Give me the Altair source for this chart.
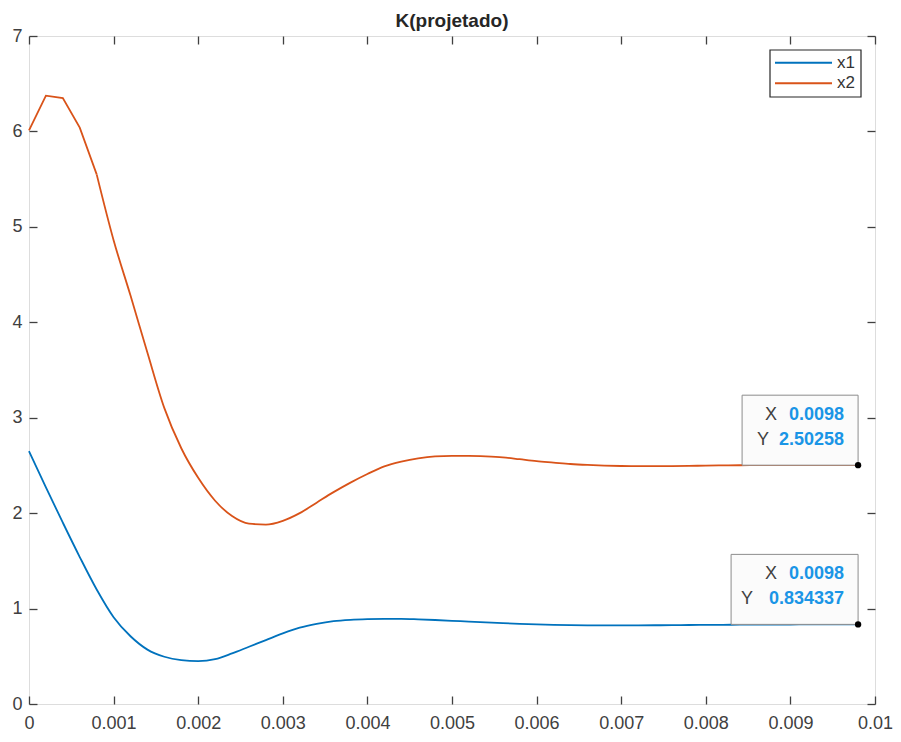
import altair as alt
import pandas as pd

# ---- data ----
t = [0.0, 0.0002, 0.0004, 0.0006, 0.0008, 0.0010, 0.0012, 0.0014, 0.0016, 0.0018,
     0.0020, 0.0022, 0.0024, 0.0026, 0.0028, 0.0030, 0.0032, 0.0034, 0.0036, 0.0038,
     0.0040, 0.0042, 0.0044, 0.0046, 0.0048, 0.0050, 0.0052, 0.0054, 0.0056, 0.0058,
     0.0060, 0.0062, 0.0064, 0.0066, 0.0068, 0.0070, 0.0072, 0.0074, 0.0076, 0.0078,
     0.0080, 0.0082, 0.0084, 0.0086, 0.0088, 0.0090, 0.0092, 0.0094, 0.0096, 0.0098]

x1 = [2.65, 2.27, 1.90, 1.54, 1.20, 0.91, 0.71, 0.57, 0.495, 0.46,
      0.45, 0.47, 0.53, 0.60, 0.67, 0.74, 0.80, 0.84, 0.868, 0.882,
      0.889, 0.892, 0.892, 0.887, 0.880, 0.872, 0.863, 0.855, 0.847, 0.840,
      0.834, 0.829, 0.826, 0.824, 0.823, 0.823, 0.824, 0.825, 0.826, 0.828,
      0.829, 0.830, 0.831, 0.832, 0.833, 0.833, 0.834, 0.834, 0.834, 0.834337]

x2 = [6.01, 6.375, 6.35, 6.04, 5.55, 4.86, 4.28, 3.68, 3.10, 2.68,
      2.37, 2.13, 1.97, 1.89, 1.88, 1.92, 2.00, 2.11, 2.22, 2.32,
      2.41, 2.49, 2.54, 2.575, 2.595, 2.60, 2.60, 2.595, 2.585, 2.565,
      2.545, 2.53, 2.515, 2.505, 2.498, 2.494, 2.492, 2.492, 2.493, 2.495,
      2.498, 2.500, 2.502, 2.503, 2.504, 2.504, 2.504, 2.503, 2.503, 2.50258]

series_names = ["x1", "x2"]
series_colors = ["#0072BD", "#D95319"]

x_ticks = [0, 0.001, 0.002, 0.003, 0.004, 0.005, 0.006, 0.007, 0.008, 0.009, 0.01]
y_ticks = [0, 1, 2, 3, 4, 5, 6, 7]

# data tips
tip_x = [0.0098, 0.0098]
tip_y = [2.50258, 0.834337]
tip_x_text = ["0.0098", "0.0098"]
tip_y_text = ["2.50258", "0.834337"]

# ---- styling ----
FONT = "Liberation Sans"
AX = "#404040"
W, H = 846, 668
tip_box_w = [116, 127]
tip_label_dx_x = [-81, -81]
tip_label_dx_y = [-89, -105]
legend_rows_y = [26.7, 47.3]

xs = alt.Scale(domain=[0, 0.01], nice=False, zero=False)
ys = alt.Scale(domain=[0, 7], nice=False)
cs = alt.Scale(domain=series_names, range=series_colors)

df = pd.DataFrame({
    "t": t + t,
    "value": x1 + x2,
    "series": ["x1"] * len(t) + ["x2"] * len(t),
})
# coarse early solver steps of x2 are drawn straight, the rest smooth
early = df[(df.series == "x2") & (df.t <= 0.00081)]
rest = df[~((df.series == "x2") & (df.t < 0.00079))]

common_axis = dict(domain=False, grid=False, ticks=True, tickSize=8, offset=-8,
                   tickColor=AX, tickWidth=1.3, labelFont=FONT, labelFontSize=18,
                   labelColor=AX, title=None)

enc_x = alt.X("t:Q", scale=xs,
              axis=alt.Axis(orient="bottom", values=x_ticks, format="~g",
                            labelPadding=10, labelFlush=False, **common_axis))
enc_y = alt.Y("value:Q", scale=ys,
              axis=alt.Axis(orient="left", values=y_ticks, labelPadding=7, **common_axis))
enc_c = alt.Color("series:N", scale=cs, legend=None)

lines_smooth = alt.Chart(rest).mark_line(strokeWidth=1.8, interpolate="monotone").encode(
    x=enc_x, y=enc_y, color=enc_c)
lines_early = alt.Chart(early).mark_line(strokeWidth=1.8).encode(
    x=alt.X("t:Q", scale=xs, axis=None), y=alt.Y("value:Q", scale=ys, axis=None),
    color=enc_c)

tips_df = pd.DataFrame({"x": tip_x, "y": tip_y, "xs": tip_x_text, "ys": tip_y_text})

mirror = alt.Chart(tips_df).mark_point(opacity=0).encode(
    x=alt.X("x:Q", scale=xs,
            axis=alt.Axis(orient="top", values=x_ticks, labels=False, **common_axis)),
    y=alt.Y("y:Q", scale=ys,
            axis=alt.Axis(orient="right", values=y_ticks, labels=False, **common_axis)),
)

tip_layers = []
for i in range(len(tip_x)):
    d = tips_df.iloc[[i]]
    base = alt.Chart(d).encode(
        x=alt.X("x:Q", scale=xs, axis=None),
        y=alt.Y("y:Q", scale=ys, axis=None),
    )
    box = base.mark_rect(fill="#fbfbfb", stroke="#8c8c8c", strokeWidth=1,
                         xOffset=-tip_box_w[i], yOffset=-70).encode(x2="x:Q", y2="y:Q")
    xv = base.mark_text(align="right", baseline="middle", dx=-14, dy=-50, font=FONT,
                        fontSize=18, fontWeight="bold", color="#1a95e6").encode(text="xs:N")
    yv = base.mark_text(align="right", baseline="middle", dx=-14, dy=-25, font=FONT,
                        fontSize=18, fontWeight="bold", color="#1a95e6").encode(text="ys:N")
    xl = base.mark_text(align="right", baseline="middle", dx=tip_label_dx_x[i], dy=-50,
                        font=FONT, fontSize=18, color="#404040").encode(text=alt.value("X"))
    yl = base.mark_text(align="right", baseline="middle", dx=tip_label_dx_y[i], dy=-25,
                        font=FONT, fontSize=18, color="#404040").encode(text=alt.value("Y"))
    dot = base.mark_point(filled=True, color="black", size=40, opacity=1)
    tip_layers += [box, xv, yv, xl, yl, dot]

# legend box (MATLAB style, top-right inside the axes)
leg_df = pd.DataFrame({"series": series_names})
legend_layers = [
    alt.Chart(leg_df.iloc[[0]]).mark_rect(fill="white", stroke="#262626", strokeWidth=1.2).encode(
        x=alt.value(W - 105), x2=alt.value(W - 14), y=alt.value(14), y2=alt.value(61))
]
for i, name in enumerate(series_names):
    d = leg_df.iloc[[i]]
    legend_layers.append(
        alt.Chart(d).mark_rule(strokeWidth=2).encode(
            x=alt.value(W - 100), x2=alt.value(W - 43), y=alt.value(legend_rows_y[i]),
            color=enc_c))
    legend_layers.append(
        alt.Chart(d).mark_text(align="left", baseline="middle", font=FONT, fontSize=17,
                               color="#333333").encode(
            x=alt.value(W - 38), y=alt.value(legend_rows_y[i]), text="series:N"))

chart = alt.layer(lines_smooth, lines_early, mirror, *tip_layers, *legend_layers).resolve_axis(
    x="independent", y="independent"
).properties(
    width=W, height=H,
    title=alt.TitleParams("K(projetado)", font=FONT, fontSize=19, fontWeight="bold",
                          color="#262626", anchor="middle", offset=-4),
    padding={"left": 21, "top": 28, "right": 18, "bottom": 30},
    autosize=alt.AutoSizeParams(type="none"),
).configure_view(stroke=AX, strokeWidth=1.5).configure(background="white")

chart.save("out.html", embed_options={"renderer": "svg", "actions": False})
